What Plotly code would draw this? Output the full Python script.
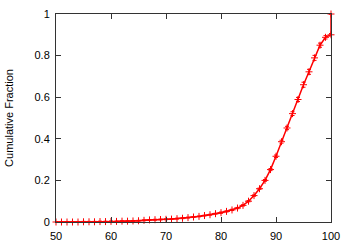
import plotly.graph_objects as go

x_vals = [50, 51, 52, 53, 54, 55, 56, 57, 58, 59, 60, 61, 62, 63, 64, 65, 66, 67, 68, 69,
          70, 71, 72, 73, 74, 75, 76, 77, 78, 79, 80, 81, 82, 83, 84, 85, 86, 87, 88, 89,
          90, 91, 92, 93, 94, 95, 96, 97, 98, 99, 100, 100]
cum_frac = [0.0, 0.0, 0.0, 0.0, 0.0, 0.001, 0.001, 0.001, 0.002, 0.002,
            0.003, 0.003, 0.004, 0.004, 0.005, 0.006, 0.008, 0.010, 0.011, 0.012,
            0.013, 0.014, 0.016, 0.018, 0.021, 0.024, 0.027, 0.031, 0.035, 0.040,
            0.045, 0.051, 0.058, 0.067, 0.080, 0.100, 0.127, 0.160, 0.200, 0.252,
            0.316, 0.386, 0.452, 0.521, 0.589, 0.660, 0.722, 0.789, 0.850, 0.888,
            0.900, 1.0]
err = [0.002] * 30 + [0.003] * 8 + [0.004, 0.005, 0.006, 0.007, 0.008, 0.009, 0.010,
                                    0.012, 0.012, 0.012, 0.010, 0.008, 0.006, 0.0]

x_ticks = [50, 60, 70, 80, 90, 100]
y_ticks = [0, 0.2, 0.4, 0.6, 0.8, 1]
y_ticklabels = ["0", "0.2", "0.4", "0.6", "0.8", "1"]

fig = go.Figure()
fig.add_trace(go.Scatter(
    x=x_vals, y=cum_frac,
    mode="lines+markers",
    line=dict(color="#ff0000", width=1.5),
    marker=dict(symbol="cross-thin", size=5, color="#ff0000",
                line=dict(color="#ff0000", width=1)),
    error_y=dict(type="data", array=err, visible=True, color="#ff0000",
                 thickness=1, width=2),
    cliponaxis=False,
    showlegend=False,
))

axis_common = dict(
    showline=True, linecolor="#333333", linewidth=1, mirror="allticks",
    ticks="inside", ticklen=5, tickcolor="#333333", tickwidth=1,
    showgrid=False, zeroline=False, automargin=False,
    tickfont=dict(family="Liberation Sans, Arial, sans-serif", size=11, color="#000000"),
)

fig.update_layout(
    width=350, height=245,
    margin=dict(l=56, r=19, t=14, b=23),
    paper_bgcolor="white", plot_bgcolor="white",
    xaxis=dict(range=[50, 100], tickvals=x_ticks, ticklabelstandoff=4, **axis_common),
    yaxis=dict(range=[0, 1], tickvals=y_ticks, ticktext=y_ticklabels,
               ticklabelstandoff=3,
               title=dict(text="Cumulative Fraction", standoff=18,
                          font=dict(family="Liberation Sans, Arial, sans-serif", size=11,
                                    color="#000000")),
               **axis_common),
)

fig.write_html("out.html")
